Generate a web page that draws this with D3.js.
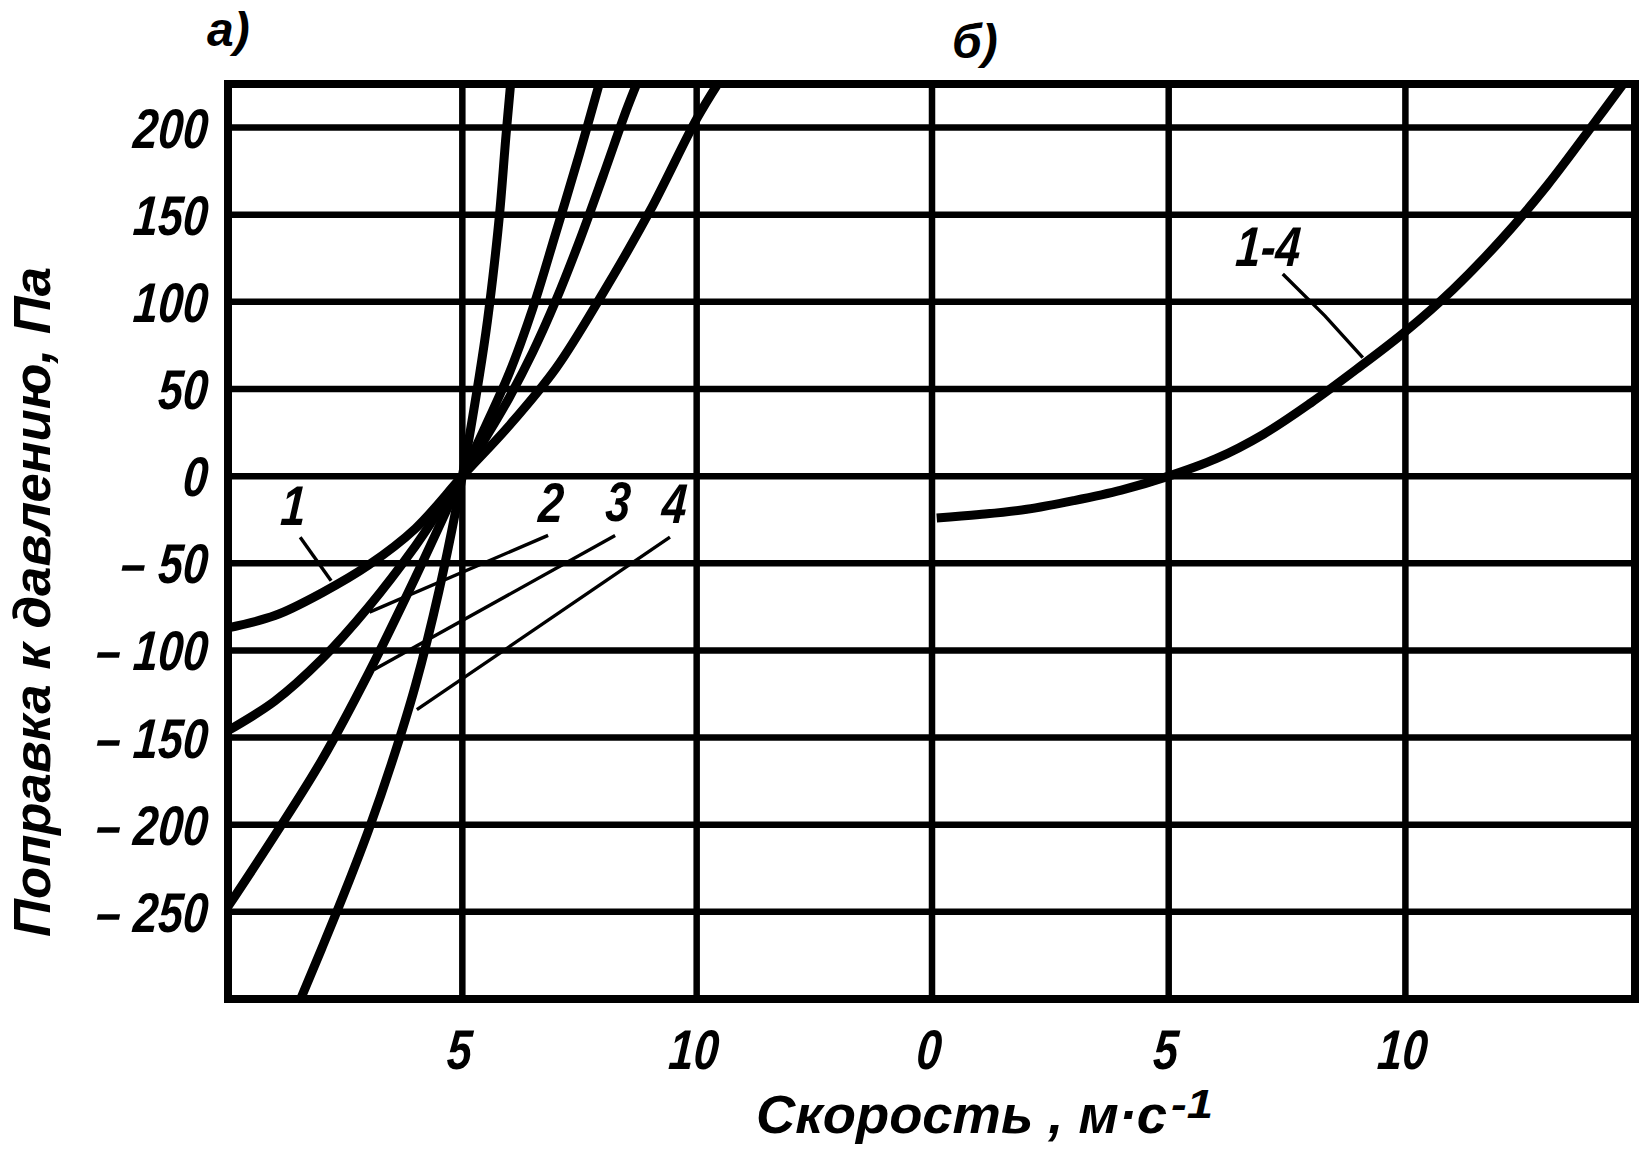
<!DOCTYPE html>
<html>
<head>
<meta charset="utf-8">
<script src="https://cdn.jsdelivr.net/npm/d3@7/dist/d3.min.js"></script>
<style>
  html, body { margin: 0; padding: 0; background: #fff; }
  svg { display: block; }
  text { font-family: "Liberation Sans", Arial, sans-serif; font-weight: bold; font-style: italic; fill: #000; }
</style>
</head>
<body>
<svg id="chart" width="1642" height="1150"></svg>
<script>
// ---------------- DATA ----------------
// y axis: pressure correction, Pa
const yTicks = [200, 150, 100, 50, 0, -50, -100, -150, -200, -250];
const yTickLabels = ["200", "150", "100", "50", "0", "– 50", "– 100", "– 150", "– 200", "– 250"];
// x axis panel a and panel b: speed, m/s
const xTicksA = [5, 10];
const xTickLabelsA = ["5", "10"];
const xTicksB = [0, 5, 10];
const xTickLabelsB = ["0", "5", "10"];

// panel a curves [speed, correction]
const curve1 = [[0,-87],[1,-80],[2,-67],[3,-51],[4,-30],[5,0],[6,29],[7,62],[8,105],[9,152],[10,205],[10.45,225]];
const curve2 = [[0,-146],[1,-129],[2,-105],[3,-75],[4,-40],[4.5,-20],[5,0],[5.5,22],[6,45],[6.5,71],[7,101],[7.5,135],[8,172],[8.5,210],[8.72,225]];
const curve3 = [[0,-247],[1,-206],[2,-163],[3,-113],[4,-58],[5,0],[5.5,29],[6,59],[6.5,96],[7,140],[7.5,185],[7.92,225]];
const curve4 = [[1.55,-300],[2,-271],[2.5,-238],[3,-203],[3.5,-164],[4,-120],[4.5,-66],[5,0],[5.3,47],[5.5,82],[5.65,114],[5.8,152],[5.93,195],[6.03,225]];
// panel b curve (1-4)
const curveB = [[0.1,-24],[1,-22],[2,-19],[3,-14],[4,-8],[5,0],[6,10],[7,24],[8,42],[9,62],[10,83],[11,107],[12,135],[13,167],[14,203],[14.6,225]];

const curveLabelsA = ["1", "2", "3", "4"];
const curveLabelB = "1-4";
const panelLabels = ["а)", "б)"];
const yTitle = "Поправка к давлению, Па";
const xTitle = "Скорость , м·с";
const xTitleSup = "-1";

// ---------------- LAYOUT ----------------
const svg = d3.select("#chart");
const y = d3.scaleLinear().domain([-300, 225]).range([999, 84]);
const xa = d3.scaleLinear().domain([0, 15]).range([228, 931]);
const xb = d3.scaleLinear().domain([0, 14.85]).range([932, 1635]);

const pLeft = xa(0), pRight = xb(14.85), pTop = y(225), pBottom = y(-300);

svg.append("rect").attr("width", 1642).attr("height", 1150).attr("fill", "#fff");

const defs = svg.append("defs");
defs.append("clipPath").attr("id", "clipA").append("rect")
  .attr("x", pLeft).attr("y", pTop).attr("width", xb(0) - pLeft).attr("height", pBottom - pTop);
defs.append("clipPath").attr("id", "clipB").append("rect")
  .attr("x", xb(0)).attr("y", pTop).attr("width", pRight - xb(0)).attr("height", pBottom - pTop);

const grid = svg.append("g").attr("stroke", "#000").attr("fill", "none");
grid.selectAll("line.h").data(yTicks).join("line")
  .attr("class", "h")
  .attr("x1", pLeft).attr("x2", pRight)
  .attr("y1", d => y(d)).attr("y2", d => y(d))
  .attr("stroke-width", 6.5);
grid.selectAll("line.va").data(xTicksA).join("line")
  .attr("class", "va")
  .attr("x1", d => xa(d)).attr("x2", d => xa(d))
  .attr("y1", pTop).attr("y2", pBottom).attr("stroke-width", 6.5);
grid.selectAll("line.vb").data(xTicksB).join("line")
  .attr("class", "vb")
  .attr("x1", d => xb(d)).attr("x2", d => xb(d))
  .attr("y1", pTop).attr("y2", pBottom).attr("stroke-width", 6.5);
grid.append("rect").attr("x", pLeft).attr("y", pTop)
  .attr("width", pRight - pLeft).attr("height", pBottom - pTop)
  .attr("stroke-width", 8);

// curves
const lineA = d3.line().x(d => xa(d[0])).y(d => y(d[1])).curve(d3.curveCatmullRom.alpha(0.5));
const lineB = d3.line().x(d => xb(d[0])).y(d => y(d[1])).curve(d3.curveCatmullRom.alpha(0.5));

svg.append("g").attr("clip-path", "url(#clipA)")
  .selectAll("path").data([curve1, curve2, curve3, curve4]).join("path")
  .attr("d", lineA).attr("fill", "none").attr("stroke", "#000")
  .attr("stroke-width", 9).attr("stroke-linejoin", "round");

svg.append("g").attr("clip-path", "url(#clipB)")
  .append("path").datum(curveB)
  .attr("d", lineB).attr("fill", "none").attr("stroke", "#000")
  .attr("stroke-width", 9).attr("stroke-linejoin", "round");

// leader lines (in data units)
const leadersA = [
  [[1.54, -35], [2.2, -60]],
  [[6.83, -34], [3.02, -78]],
  [[8.26, -34], [3.12, -111]],
  [[9.43, -35], [4.03, -134]]
];
const leaderB = [[7.41, 116], [8.3, 92], [9.1, 68]];
svg.append("g").selectAll("path").data(leadersA).join("path")
  .attr("d", d3.line().x(d => xa(d[0])).y(d => y(d[1])))
  .attr("fill", "none").attr("stroke", "#000").attr("stroke-width", 3.4);
svg.append("path").datum(leaderB)
  .attr("d", d3.line().x(d => xb(d[0])).y(d => y(d[1])))
  .attr("fill", "none").attr("stroke", "#000").attr("stroke-width", 3.4);

function narrowText(g, x, yy, str, size, anchor) {
  const t = g.append("g").attr("transform", `translate(${x},${yy}) scale(0.8,1) skewX(-5)`);
  t.append("text").attr("x", 0).attr("y", 0)
    .attr("font-size", size).attr("text-anchor", anchor).text(str);
}

const labels = svg.append("g");
yTicks.forEach((v, i) => narrowText(labels, 207, y(v) + 20, yTickLabels[i], 56, "end"));
xTicksA.forEach((v, i) => narrowText(labels, xa(v) - 4, 1069, xTickLabelsA[i], 56, "middle"));
xTicksB.forEach((v, i) => narrowText(labels, xb(v) - 4, 1069, xTickLabelsB[i], 56, "middle"));

const labelPosA = [[1.37, -16.6], [6.87, -15], [8.3, -14], [9.5, -15.5]];
curveLabelsA.forEach((s, i) => narrowText(labels, xa(labelPosA[i][0]), y(labelPosA[i][1]) + 20, s, 56, "middle"));
narrowText(labels, xb(7.08), y(132) + 20, curveLabelB, 56, "middle");

svg.append("text").attr("x", 207).attr("y", 46).attr("font-size", 48).text(panelLabels[0]);
svg.append("text").attr("x", 952).attr("y", 58).attr("font-size", 48).text(panelLabels[1]);

svg.append("text")
  .attr("transform", "translate(50,937) rotate(-90)")
  .attr("font-size", 52)
  .attr("textLength", 670).attr("lengthAdjust", "spacingAndGlyphs")
  .text(yTitle);

svg.append("text").attr("x", 756).attr("y", 1133)
  .attr("font-size", 54)
  .attr("textLength", 411).attr("lengthAdjust", "spacingAndGlyphs")
  .text(xTitle);
svg.append("text").attr("x", 1171).attr("y", 1118)
  .attr("font-size", 40)
  .attr("textLength", 42).attr("lengthAdjust", "spacingAndGlyphs")
  .text(xTitleSup);
</script>
</body>
</html>
